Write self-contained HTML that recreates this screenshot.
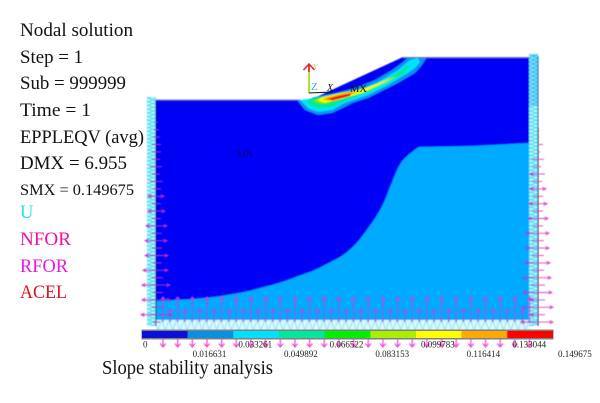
<!DOCTYPE html>
<html lang="en">
<head>
<meta charset="utf-8">
<title>Slope stability analysis</title>
<style>
html,body{margin:0;padding:0;background:#fff;width:600px;height:403px;overflow:hidden}
svg{display:block}
text{font-family:"Liberation Serif",serif}
</style>
</head>
<body>
<svg id="chart" width="600" height="403" viewBox="0 0 600 403" xmlns="http://www.w3.org/2000/svg">
  <defs>
    <filter id="soft" x="-5%" y="-5%" width="110%" height="110%"><feGaussianBlur stdDeviation="0.45"/></filter>
    <pattern id="meshv" width="9" height="7.4" patternUnits="userSpaceOnUse">
      <rect width="9" height="7.4" fill="#b8f6fb"/>
      <path d="M0 0L9 3.7L0 7.4M9 0L0 3.7L9 7.4" stroke="#30d8f0" stroke-width="0.9" fill="none"/>
    </pattern>
    <pattern id="meshr" width="9" height="4" patternUnits="userSpaceOnUse">
      <rect width="9" height="4" fill="#80e0fa"/>
      <path d="M0 0L9 2L0 4" stroke="#20b8f0" stroke-width="0.9" fill="none"/>
    </pattern>
    <pattern id="meshb" width="7.35" height="10" patternUnits="userSpaceOnUse">
      <rect width="7.35" height="10" fill="#dcf8fd"/>
      <path d="M0 0L3.7 10L7.35 0" stroke="#70e0f8" stroke-width="0.8" fill="none"/>
    </pattern>
  </defs>

  <g id="model" filter="url(#soft)">
    <polygon points="156,100 310,100 403,57 529,58 529,325 156,325" fill="#0000f5"/>
    <path d="M156 301L193 299C205 298 216 297 227 295C240 293 250 291 260 288C272 285 283 282 293 278C304 274 314 271 323 266C332 261 340 258 347 252C353 247 358 242 363 235C369 227 375 219 380 210C384 203 387 195 390 187C393 180 395 174 398 168C400 164 402 161 405 158C409 154 414 150 419 147L470 146L529 143V325H156Z" fill="#00aaff"/>
    <polygon fill="#0a90f0" points="297,100 305,110 318,115 332,113 345,107 352,103 368,98 398,83 415,73 422,65 427,57 408,57 403,62 392,70 375,80 355,88 335,93 315,97 305,100"/>
    <polygon fill="#00e4ff" points="300,100 308,108 318,112 332,110 345,103 368,95 388,85 408,73 415,68 420,62 418,58 410,60 398,70 378,82 355,92 335,95 316,98"/>
    <polygon fill="#00e8a0" points="306,101 312,107 322,108 332,107 345,101 368,92 388,82 405,73 409,66 407,65 398,73 368,89 345,94 325,96 312,99"/>
    <polygon fill="#30f010" points="312,101 317,104 328,104 345,98 368,90 388,80 403,72 398,74 382,82 368,87 345,93 325,96"/>
    <polygon fill="#b0f000" points="315,101 322,103 338,100 365,92 385,83 397,76 382,82 362,89 340,93 322,97"/>
    <polygon fill="#ffff00" points="318,100 325,103 338,99 362,93 378,85 392,77 375,85 358,91 338,94 322,98"/>
    <polygon fill="#ffa800" points="322,100 328,100.5 345,97 358,92 350,92 328,97"/>
    <polygon fill="#ff0000" points="327,99 332,100.5 350,96 351,93.5 338,96"/>
    <rect x="156" y="99.5" width="144" height="1" fill="#7070a8"/>
    <rect x="403" y="57" width="126" height="1" fill="#6a70c0"/>
    <rect x="147" y="97" width="9" height="229" fill="url(#meshv)"/>
    <rect x="529" y="54" width="9" height="52" fill="url(#meshr)"/>
    <rect x="529" y="106" width="9" height="220" fill="url(#meshv)"/>
    <rect x="156" y="320" width="373" height="10" fill="url(#meshb)"/>
    <rect x="155.5" y="100" width="1" height="226" fill="#101030"/>
    <rect x="537.5" y="56" width="1" height="72" fill="#3060a0"/>
    <rect x="537.5" y="128" width="1" height="198" fill="#101030"/>
  </g>

  <g id="forces" filter="url(#soft)"></g>

  <g>
    <line x1="309" y1="93" x2="309" y2="66" stroke="#b0e030" stroke-width="2"/>
    <path d="M309 72V64M303.5 70L309 64L314.5 70" stroke="#f02030" stroke-width="1.6" fill="none"/>
    <line x1="309" y1="93" x2="333" y2="92" stroke="#101010" stroke-width="1"/>
    <text x="311" y="90" font-size="11" fill="#30b0f0">Z</text>
    <text x="313" y="69" font-size="7" fill="#d8d040">Y</text>
    <text x="327" y="91" font-size="10" font-style="italic" fill="#101010">X</text>
  </g>
  <text x="350" y="92" font-size="10.5" fill="#101010" textLength="17" lengthAdjust="spacingAndGlyphs">MX</text>
  <text x="237" y="157" font-size="10" fill="#000080" textLength="16" lengthAdjust="spacingAndGlyphs">MN</text>

  <g font-size="18.5" fill="#111">
    <text x="20" y="36" textLength="113" lengthAdjust="spacingAndGlyphs">Nodal solution</text>
    <text x="20" y="63" textLength="63" lengthAdjust="spacingAndGlyphs">Step = 1</text>
    <text x="20" y="89" textLength="106" lengthAdjust="spacingAndGlyphs">Sub = 999999</text>
    <text x="20" y="116" textLength="71" lengthAdjust="spacingAndGlyphs">Time = 1</text>
    <text x="20" y="143" textLength="124" lengthAdjust="spacingAndGlyphs">EPPLEQV (avg)</text>
    <text x="20" y="169" textLength="107" lengthAdjust="spacingAndGlyphs">DMX = 6.955</text>
    <text x="20" y="195" font-size="16" textLength="114" lengthAdjust="spacingAndGlyphs">SMX = 0.149675</text>
    <text x="20" y="218" fill="#19e6ee">U</text>
    <text x="20" y="245" fill="#f0109a" textLength="51" lengthAdjust="spacingAndGlyphs">NFOR</text>
    <text x="20" y="272" fill="#e818e8" textLength="48" lengthAdjust="spacingAndGlyphs">RFOR</text>
    <text x="20" y="298" fill="#e01018" textLength="47" lengthAdjust="spacingAndGlyphs">ACEL</text>
  </g>

  <g id="colorbar"></g>

  <text x="102" y="374" font-size="19.5" fill="#111" textLength="171" lengthAdjust="spacingAndGlyphs">Slope stability analysis</text>
</svg>

<script>
var legendValues = ['0','0.016631','0.033261','0.049892','0.066522','0.083153','0.099783','0.116414','0.133044','0.149675'];
var legendColors = ['#0a10d8','#0a90e0','#00e0ff','#00e8a0','#00f000','#a8f000','#ffff00','#ffa800','#ff0000'];
var bottomForces = [25,13,25,13,25,13,25,13,25,13,25,13,25,13,25,13,25,13,25,13,25,13,25,13,25,13,25,13,25,13,25,13,25,13,25,13,25,13,25,13,25,13,25,13,25,13,25,13,25,13,25];
var leftLeft = [1,2,3,4,4,4,6,4,6,3,8,4,8,4,10,4,11,4,11,3,13,4,14,3,14,4,15,3];
var leftRight = [2,3,4,5,5,4,6,4,7,5,8,5,9,5,11,6,11,6,12,6,12,7,14,7,14,7,16,4];
var rightLeft = [0,0,0,0,0,6,5,8,5,8,5,9,5,10,5,12,6,12,6,13,6,15,7,15,8,16,8,17];
var rightRight = [0,1,1,5,2,6,3,7,4,8,5,9,5,10,5,11,6,11,6,12,6,13,7,14,7,15,7,15];

var NS = 'http://www.w3.org/2000/svg';
var BAR_X0 = 142, BAR_X1 = 553, BAR_Y = 330, BAR_H = 9;
function barX(i) { return BAR_X0 + (BAR_X1 - BAR_X0) * i / legendColors.length; }
function forceX(i) { return 163 + i * 7.33; }
function sideY(i) { return 122.3 + i * 7.4; }
function magnitude(v) { return v; }

var bar = document.getElementById('colorbar');
var frame = document.createElementNS(NS, 'rect');


frame.setAttribute('x', BAR_X0 - 0.5);
frame.setAttribute('y', BAR_Y - 0.5);
frame.setAttribute('width', BAR_X1 - BAR_X0 + 1);
frame.setAttribute('height', BAR_H + 1);
frame.setAttribute('fill', '#808080');
bar.appendChild(frame);
legendColors.forEach(function (c, i) {
  var r = document.createElementNS(NS, 'rect');
  
  
  r.setAttribute('x', barX(i));
  r.setAttribute('y', BAR_Y + 1);
  r.setAttribute('width', barX(i + 1) - barX(i));
  r.setAttribute('height', BAR_H - 2);
  r.setAttribute('fill', c);
  bar.appendChild(r);
});
legendValues.forEach(function (v, i) {
  var t = document.createElementNS(NS, 'text');
  
  
  t.setAttribute('x', i === 0 ? barX(0) + 1 : barX(i) + 5);
  t.setAttribute('y', i % 2 === 0 ? 347.5 : 357);
  t.setAttribute('font-size', '9');
  t.setAttribute('fill', '#222');
  t.textContent = v;
  bar.appendChild(t);
});

var forces = document.getElementById('forces');
function arrow(x1, y1, x2, y2, color, width, head) {
  var p = document.createElementNS(NS, 'path');
  
  
  var d = 'M' + x1 + ' ' + y1 + 'L' + x2 + ' ' + y2;
  if (head) {
    var dx = Math.sign(x2 - x1), dy = Math.sign(y2 - y1);
    d += 'M' + (x2 - dx * 3.5 - dy * 2.8) + ' ' + (y2 - dy * 3.5 - dx * 1.6) + 'L' + x2 + ' ' + y2 +
         'L' + (x2 - dx * 3.5 + dy * 2.8) + ' ' + (y2 - dy * 3.5 + dx * 1.6);
  }
  p.setAttribute('d', d);
  p.setAttribute('stroke', color);
  p.setAttribute('stroke-width', width);
  p.setAttribute('fill', 'none');
  forces.appendChild(p);
}
bottomForces.forEach(function (v, i) {
  var x = forceX(i);
  arrow(x, 322, x, 322 - magnitude(v), '#b84ae0', 1.1, true);
  if (v > 20) { arrow(x, 339, x, 347, '#ee38c8', 1.1, true); }
});
leftLeft.forEach(function (v, i) {
  var y = sideY(i);
  arrow(156, y, 156 - magnitude(v), y, '#c030c8', 0.9, v > 7);
  arrow(156, y, 156 + magnitude(leftRight[i]), y, '#c030c8', 0.9, leftRight[i] > 7);
});
rightLeft.forEach(function (v, i) {
  var y = sideY(i);
  arrow(538, y, 538 - magnitude(v), y, '#c038d0', 0.9, v > 7);
  arrow(538, y, 538 + magnitude(rightRight[i]), y, '#e040c0', 0.9, rightRight[i] > 7);
});
</script>
</body>
</html>
